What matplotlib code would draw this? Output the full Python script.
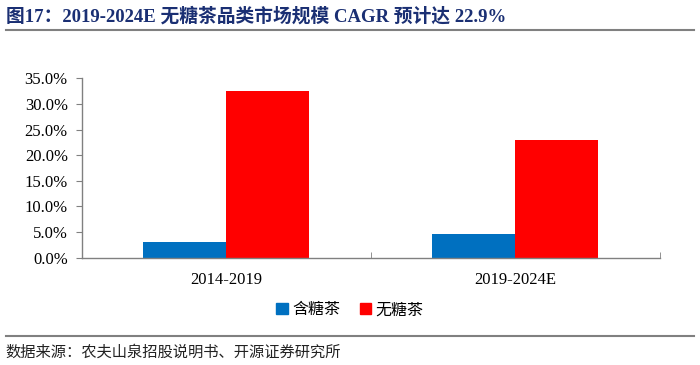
import matplotlib.pyplot as plt
from matplotlib.lines import Line2D
from matplotlib.patches import Patch
import numpy as np

# 数据
categories = ['2014-2019', '2019-2024E']
series_names = ['含糖茶', '无糖茶']
sugar_tea = [3.0, 4.6]
sugar_free_tea = [32.6, 22.9]
yticks = [0, 5, 10, 15, 20, 25, 30, 35]

colors = ['#0070C0', '#FF0000']
mixed = ['Liberation Serif', 'Noto Sans CJK SC']

fig = plt.figure(figsize=(7, 3.65), dpi=100)
ax = fig.add_axes([0.1167, 0.2940, 0.8262, 0.4915])

x = np.arange(len(categories))
w = 0.287
ax.bar(x - w / 2, sugar_tea, w, color=colors[0], label=series_names[0])
ax.bar(x + w / 2, sugar_free_tea, w, color=colors[1], label=series_names[1])

ax.set_xlim(-0.5, len(categories) - 0.5)
ax.set_ylim(0, 35)
ax.set_yticks(yticks)
ax.set_yticklabels([f'{v:.1f}%' for v in yticks], family='Liberation Serif', fontsize=12)

# x轴刻度放在类别分界处
ax.set_xticks(x)
ax.set_xticklabels(categories, family='Liberation Serif', fontsize=12)
ax.tick_params(axis='x', length=0, pad=10)
ax.set_xticks([-0.5, 0.5, 1.5], minor=True)
ax.tick_params(axis='x', which='minor', direction='in', length=4, color='#808080')
ax.tick_params(axis='y', direction='out', length=4, color='#808080', pad=6)

for s in ['top', 'right']:
    ax.spines[s].set_visible(False)
for s in ['left', 'bottom']:
    ax.spines[s].set_color('#808080')
    ax.spines[s].set_linewidth(1.0)

handles = [Patch(color=c, label=n) for c, n in zip(colors, series_names)]
fig.legend(handles=handles, loc='center', bbox_to_anchor=(0.5, 0.151), ncol=2,
           frameon=False, prop={'family': 'Noto Sans CJK SC', 'size': 11.5},
           handlelength=0.7, handleheight=0.7, handletextpad=0.3, columnspacing=1.2)

# 标题与来源
fig.text(0.008, 0.955, '图17：2019-2024E 无糖茶品类市场规模 CAGR 预计达 22.9%',
         family=mixed, fontsize=13.5, fontweight='bold', color='#1A2F73', va='center')
fig.add_artist(Line2D([0.008, 0.992], [0.917, 0.917], color='#808080', linewidth=1.5))
fig.add_artist(Line2D([0.008, 0.992], [0.079, 0.079], color='#808080', linewidth=1.5))
fig.text(0.008, 0.035, '数据来源：农夫山泉招股说明书、开源证券研究所',
         family='Noto Sans CJK SC', fontsize=11, color='#222222', va='center')

fig.savefig('out.png', dpi=100, facecolor='white')
